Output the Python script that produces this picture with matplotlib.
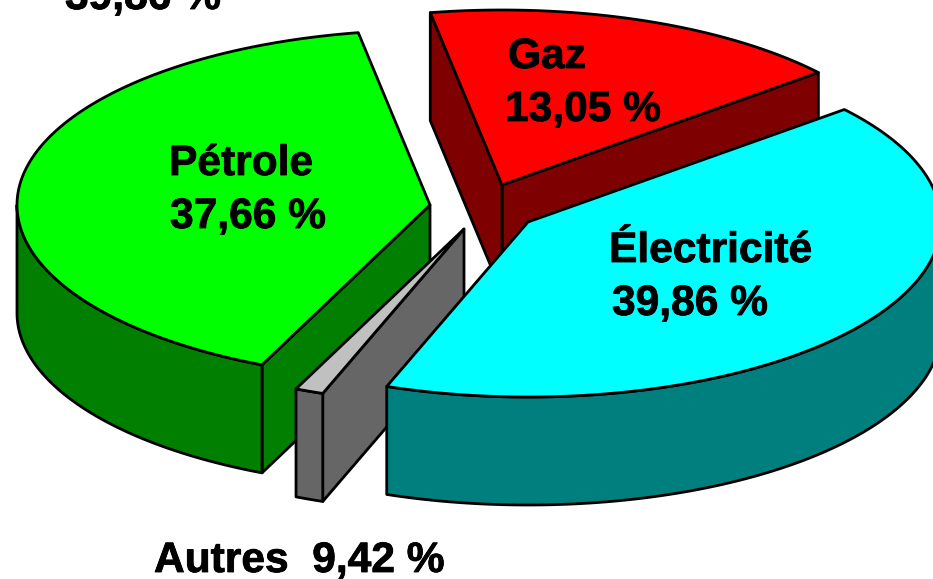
import numpy as np
import matplotlib
matplotlib.use("Agg")
import matplotlib.pyplot as plt
from matplotlib.patches import Polygon
import matplotlib.patheffects as pe

plt.rcParams['font.family'] = ['Liberation Sans', 'DejaVu Sans']

# labels and printed shares
labels = ['Gaz', 'Pétrole', 'Autres', 'Électricité']
shares = [13.05, 37.66, 9.42, 39.86]
# the slices as drawn do not follow the shares: sweep, in degrees
sweeps = [60, 146, 4, 150]

top_colors = ['#FF0000', '#00FF00', '#C0C0C0', '#00FFFF']
side_colors = ['#7F0000', '#007F00', '#666666', '#007F7F']

# exploded position of each slice, in pixels
apex_x = [502, 430, 464, 528]
apex_y = [185, 205, 229, 222]
start_angle = 40
rx, ry = 413, 175
depth = 108
line_w = 2.0


def rim(cx, cy, t):
    t = np.radians(t)
    return cx + rx * np.cos(t), cy - ry * np.sin(t)


def add_poly(ax, xs, ys, color):
    ax.add_patch(Polygon(np.column_stack([xs, ys]), closed=True, facecolor=color,
                         edgecolor='black', linewidth=line_w, joinstyle='round'))


def cut_face(ax, cx, cy, t, color):
    x, y = rim(cx, cy, t)
    add_poly(ax, [cx, x, x, cx], [cy, y, y + depth, cy + depth], color)


def draw_slice(ax, cx, cy, t0, t1, top, side):
    # faces along the cuts, only those turned to the viewer
    if np.cos(np.radians(t0)) > 0:
        cut_face(ax, cx, cy, t0, side)
    if np.cos(np.radians(t1)) < 0:
        cut_face(ax, cx, cy, t1, side)
    # outer wall, front half only
    a = max(t0, 180)
    b = min(t1, 360)
    if b > a:
        t = np.linspace(a, b, 120)
        x, y = rim(cx, cy, t)
        add_poly(ax, np.r_[x, x[::-1]], np.r_[y, y[::-1] + depth], side)
    t = np.linspace(t0, t1, 200)
    x, y = rim(cx, cy, t)
    add_poly(ax, np.r_[cx, x], np.r_[cy, y], top)


def pct(v):
    return f"{v:.2f} %".replace('.', ',')


fig = plt.figure(figsize=(9.33, 5.79), dpi=100)
ax = fig.add_axes([0, 0, 1, 1])
ax.set_xlim(0, 933)
ax.set_ylim(579, 0)
ax.axis('off')

angle = start_angle
for i in range(len(labels)):
    draw_slice(ax, apex_x[i], apex_y[i], angle, angle + sweeps[i], top_colors[i], side_colors[i])
    angle += sweeps[i]

# a thin stroke makes the bold a little heavier, like the original
heavy = [pe.withStroke(linewidth=0.6, foreground='black')]
font = dict(fontsize=30.6, fontweight='bold', color='black', va='baseline', ha='left',
            path_effects=heavy)
ax.text(508, 68, labels[0], **font)
ax.text(505, 121, pct(shares[0]), **font)
ax.text(169, 175, labels[1], **font)
ax.text(170, 228, pct(shares[1]), **font)
ax.text(609, 262, labels[3], **font)
ax.text(612, 315, pct(shares[3]), **font)
ax.text(154, 572, labels[2] + '  ' + pct(shares[2]), **font)
# leftover label cut by the top of the picture
ax.text(65, 9, pct(shares[3]), **font)

fig.savefig('out.png', dpi=100)
